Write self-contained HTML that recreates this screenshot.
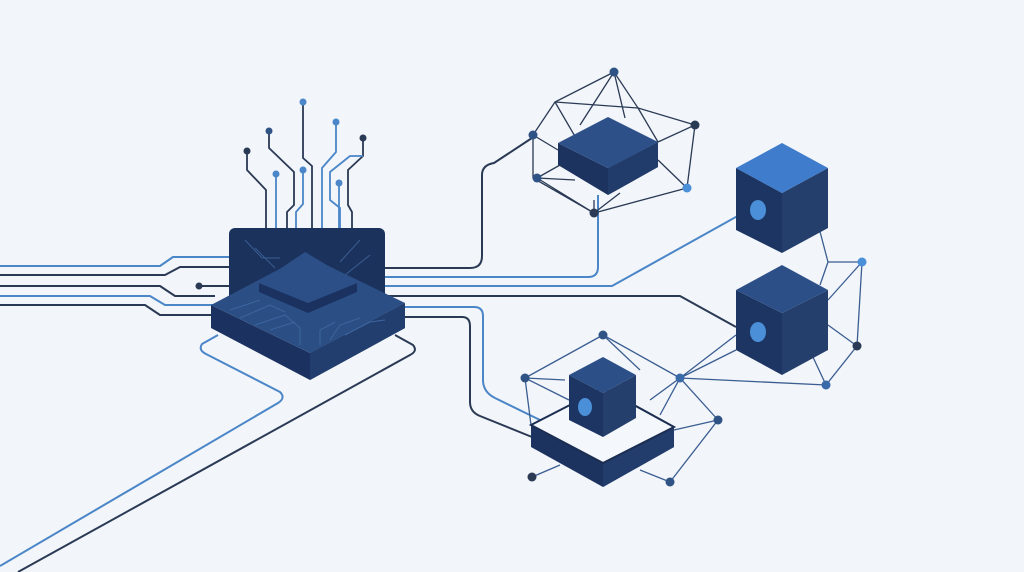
<!DOCTYPE html>
<html><head><meta charset="utf-8"><style>html,body{margin:0;padding:0;background:#f2f5f9;}svg{display:block}</style></head><body>
<svg width="1024" height="572" viewBox="0 0 1024 572" xmlns="http://www.w3.org/2000/svg">
<rect width="1024" height="572" fill="#f2f5f9"/>
<g fill="none" stroke-width="2" stroke-linejoin="round">
<!-- left lines -->
<path d="M0 266H160L173 257H232" stroke="#4a86c8"/>
<path d="M0 275H165L180 267H232" stroke="#2a3a55"/>
<path d="M0 286H160L175 296H215" stroke="#2a3a55"/>
<path d="M199 286H232" stroke="#2a3a55"/>
<path d="M0 296H150L165 305H215" stroke="#4a86c8"/>
<path d="M0 305H145L160 315H215" stroke="#2a3a55"/>
<!-- bottom lines -->
<path d="M218 335L202 344Q198 350 206 354L280 392Q286 398 278 403L0 566" stroke="#4a86c8"/>
<path d="M395 335L413 345Q418 351 410 355L18 572" stroke="#2a3a55"/>
<!-- right lines -->
<path d="M385 268H470Q482 268 482 256V175Q482 165 494 163L535 136" stroke="#2a3a55"/>
<path d="M385 277H588Q598 277 598 267V195" stroke="#4a86c8"/>
<path d="M385 286H612L752 208" stroke="#4a86c8"/>
<path d="M385 296H680L736 327" stroke="#2a3a55"/>
<path d="M405 307H474Q483 307 483 316V380Q483 392 495 398L540 420" stroke="#4a86c8"/>
<path d="M405 317H462Q470 317 470 326V402Q470 412 480 416L532 437" stroke="#2a3a55"/>
<!-- antennae -->
<g stroke-width="1.8">
<path d="M303 102V158L312 166V228" stroke="#2a3a55"/>
<path d="M269 131V148L294 172V205L287 212V228" stroke="#2a3a55"/>
<path d="M336 122V152L322 168V228" stroke="#4a86c8"/>
<path d="M363 138V156L348 170V205L352 212V228" stroke="#2a3a55"/>
<path d="M363 156H350L330 172V200L340 208V228" stroke="#4a86c8"/>
<path d="M247 151V170L266 190V228" stroke="#2a3a55"/>
<path d="M276 174V228" stroke="#4a86c8"/>
<path d="M303 170V204L296 212V228" stroke="#4a86c8"/>
<path d="M339 183V228" stroke="#4a86c8"/>
</g>
</g>
<g>
<circle cx="303" cy="102" r="3.5" fill="#4a86c8"/><circle cx="269" cy="131" r="3.5" fill="#2f5385"/>
<circle cx="336" cy="122" r="3.5" fill="#4a86c8"/><circle cx="363" cy="138" r="3.5" fill="#2a3a55"/>
<circle cx="247" cy="151" r="3.5" fill="#2a3a55"/><circle cx="276" cy="174" r="3.5" fill="#4a86c8"/>
<circle cx="303" cy="170" r="3.5" fill="#4a86c8"/><circle cx="339" cy="183" r="3.5" fill="#4a86c8"/>
<circle cx="199" cy="286" r="3.5" fill="#2a3a55"/>
</g>
<!-- chip -->
<rect x="229" y="228" width="156" height="80" rx="6" fill="#1b325d"/>
<g stroke="#3a5d92" stroke-width="1" fill="none"><path d="M245 240L262 258H280M360 240L340 262M370 255L345 275M255 248L275 268"/></g>
<path d="M211 305L211 328L310 380L405 328L405 303L310 353Z" fill="#1b3260"/>
<path d="M310 353L310 380L405 328L405 303Z" fill="#223e6e"/>
<path d="M211 305L306 255L405 303L310 353Z" fill="#2b4e85"/>
<g stroke="#3d659e" stroke-width="1" fill="none"><path d="M230 310L260 300M240 318L270 305L285 312M255 325L285 315L300 328V345M330 340L340 325L360 318M345 335L370 322L385 320M320 345V330L335 322M270 330L295 322"/></g>
<path d="M259 283L259 292L308 313L357 292L357 283L308 303Z" fill="#1b3260"/>
<path d="M259 283L305 252L357 283L308 303Z" fill="#2b4f86"/>
<!-- top cluster -->
<g stroke="#2a3a55" stroke-width="1.3" fill="none">
<path d="M614 72L555 102L533 135M614 72L638 108L695 125M614 72L580 125M614 72L625 118M555 102L580 145M555 102L638 108M555 102L533 135M638 108L658 142M533 135L558 150M533 135V178L594 213L687 188L695 125M537 178L594 213M537 178L560 165M537 178L575 180M594 213L620 193M687 188L658 160M695 125L658 142M594 213V200"/>
</g>
<path d="M558 143L558 165L608 195L658 167L658 142L608 168Z" fill="#1c335f"/>
<path d="M608 168L608 195L658 167L658 142Z" fill="#213c6b"/>
<path d="M558 143L608 117L658 142L608 168Z" fill="#2d5089"/>
<circle cx="614" cy="72" r="4.5" fill="#2f5385"/><circle cx="533" cy="135" r="4.5" fill="#2f5385"/>
<circle cx="695" cy="125" r="4.5" fill="#2a3a55"/><circle cx="537" cy="178" r="4.5" fill="#2f5385"/>
<circle cx="687" cy="188" r="4.5" fill="#4a8fd8"/><circle cx="594" cy="213" r="4.5" fill="#2a3a55"/>
<!-- right cluster edges -->
<g stroke="#3a5d92" stroke-width="1.3" fill="none">
<path d="M813 205L828 262L862 262L857 346L826 385L812 355M828 262L820 285M862 262L828 300M857 346L828 325M680 378L826 385M680 378L736 335M680 378L736 350M680 378L603 335M680 378L718 420L670 482M680 378L650 400M680 378L660 415M603 335L525 378L531 425M525 378L569 400M525 378L565 380M603 335L640 370M718 420L674 430M532 477L560 465M670 482L640 470"/>
</g>
<!-- right cube 1 -->
<path d="M736 168V230L782 253V193Z" fill="#1c3563"/>
<path d="M782 193V253L828 228V168Z" fill="#243f6c"/>
<path d="M736 168L782 143L828 168L782 193Z" fill="#3f7ccc"/>
<ellipse cx="758" cy="210" rx="8" ry="10" fill="#4a8fd8"/>
<!-- right cube 2 -->
<path d="M736 290V350L782 375V313Z" fill="#1c3563"/>
<path d="M782 313V375L828 350V290Z" fill="#243f6c"/>
<path d="M736 290L782 265L828 290L782 313Z" fill="#2c4f88"/>
<ellipse cx="758" cy="332" rx="8" ry="10" fill="#4a8fd8"/>
<circle cx="862" cy="262" r="4.5" fill="#4a8fd8"/><circle cx="857" cy="346" r="4.5" fill="#2a3a55"/>
<circle cx="826" cy="385" r="4.5" fill="#3a6aa8"/><circle cx="680" cy="378" r="4.5" fill="#3a6aa8"/>
<!-- platform -->
<path d="M531 425V447L603 487L674 447V427L603 463Z" fill="#1c335f"/>
<path d="M603 463V487L674 447V427Z" fill="#223d6c"/>
<path d="M531 425L603 388L674 427L603 463Z" fill="#f4f7fb" stroke="#1b2e52" stroke-width="2"/>
<!-- small cube -->
<path d="M569 375V420L603 437V393Z" fill="#1c3563"/>
<path d="M603 393V437L636 418V375Z" fill="#243f6c"/>
<path d="M569 375L603 357L636 375L603 393Z" fill="#2c4f88"/>
<ellipse cx="585" cy="407" rx="7" ry="9" fill="#4a8fd8"/>
<circle cx="603" cy="335" r="4.5" fill="#2f5385"/><circle cx="525" cy="378" r="4.5" fill="#2f5385"/>
<circle cx="718" cy="420" r="4.5" fill="#2f5385"/><circle cx="532" cy="477" r="4.5" fill="#2a3a55"/>
<circle cx="670" cy="482" r="4.5" fill="#2f5385"/>
</svg>
</body></html>
